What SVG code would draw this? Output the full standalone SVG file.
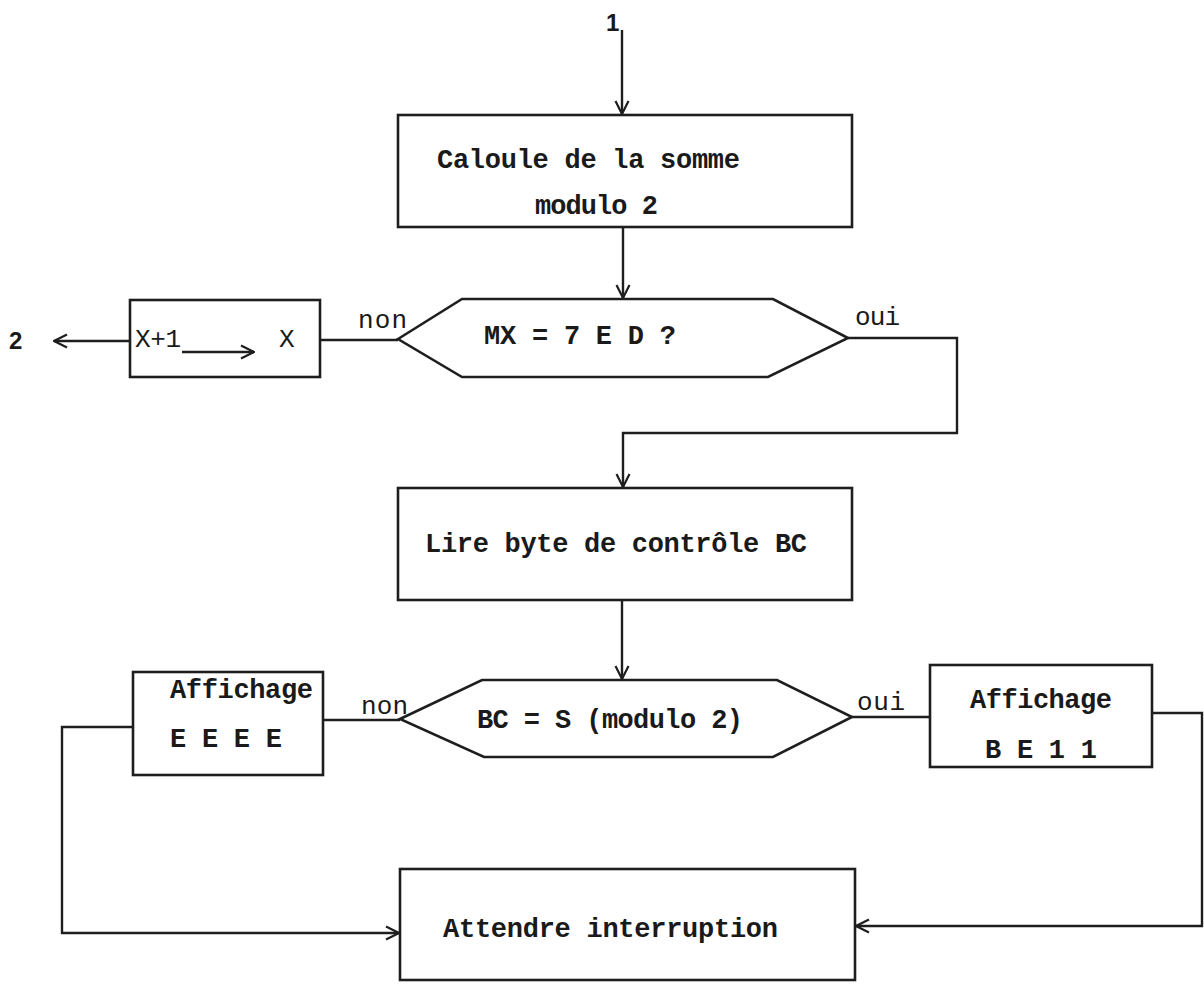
<svg xmlns="http://www.w3.org/2000/svg" width="1204" height="985" viewBox="0 0 1204 985">
<defs>
<marker id="arr" viewBox="0 0 16 16" refX="15" refY="8" markerWidth="16" markerHeight="16" markerUnits="userSpaceOnUse" orient="auto">
<path d="M2,1.5 L15,8 L2,14.5" fill="none" stroke="#1e1e1e" stroke-width="2.2"/>
</marker>
<style>
.shape{fill:none;stroke:#1e1e1e;stroke-width:2.6}
.line{fill:none;stroke:#1e1e1e;stroke-width:2.4}
.t{font-family:"Liberation Mono","Courier New",monospace;font-weight:bold;font-size:27px;fill:#1a1a1a}
.l{font-family:"Liberation Mono","Courier New",monospace;font-size:26px;fill:#1a1a1a}
.s{font-family:"Liberation Sans",Arial,sans-serif;font-weight:bold;font-size:24px;fill:#1a1a1a}
</style>
</defs>
<rect width="1204" height="985" fill="#ffffff"/>

<g id="connectors">
<path class="line" d="M622,30 V114" marker-end="url(#arr)"/>
<path class="line" d="M623,227 V298" marker-end="url(#arr)"/>
<path class="line" d="M398,340 H320"/>
<path class="line" d="M130,341 H54" marker-end="url(#arr)"/>
<path class="line" d="M848,338 H957 V433 H623 V487" marker-end="url(#arr)"/>
<path class="line" d="M622,600 V679" marker-end="url(#arr)"/>
<path class="line" d="M400,720 H323"/>
<path class="line" d="M852,717 H930"/>
<path class="line" d="M133,727 H62 V933 H399" marker-end="url(#arr)"/>
<path class="line" d="M1152,713 H1202 V926 H856" marker-end="url(#arr)"/>
</g>

<g id="label-1"><text class="s" x="606" y="31">1</text></g>
<g id="label-2"><text class="s" x="9" y="349">2</text></g>

<g id="calc-sum">
<rect class="shape" x="398" y="115" width="454" height="112"/>
<text class="t" x="437" y="168" textLength="303" lengthAdjust="spacing">Caloule de la somme</text>
<text class="t" x="535" y="214" textLength="123" lengthAdjust="spacing">modulo 2</text>
</g>

<g id="decision-mx">
<polygon class="shape" points="398,339 462,299 773,299 848,338 768,377 462,377"/>
<text class="t" x="484" y="344" textLength="192" lengthAdjust="spacing">MX = 7 E D ?</text>
<text class="l" x="358" y="328" textLength="49" lengthAdjust="spacing">non</text>
<text class="l" x="855" y="325" textLength="45" lengthAdjust="spacing">oui</text>
</g>

<g id="increment-x">
<rect class="shape" x="130" y="300" width="190" height="77"/>
<text class="l" x="135" y="347" textLength="46" lengthAdjust="spacing">X+1</text>
<path class="line" d="M182,352 H254" marker-end="url(#arr)"/>
<text class="l" x="279" y="347">X</text>
</g>

<g id="read-bc">
<rect class="shape" x="398" y="488" width="454" height="112"/>
<text class="t" x="425" y="552" textLength="382" lengthAdjust="spacing">Lire byte de contrôle BC</text>
</g>

<g id="decision-bc">
<polygon class="shape" points="400,719 482,680 777,680 852,717 773,757 484,757"/>
<text class="t" x="477" y="728" textLength="266" lengthAdjust="spacing">BC = S (modulo 2)</text>
<text class="l" x="361" y="714" textLength="47" lengthAdjust="spacing">non</text>
<text class="l" x="857" y="710" textLength="48" lengthAdjust="spacing">oui</text>
</g>

<g id="display-eeee">
<rect class="shape" x="133" y="672" width="190" height="103"/>
<text class="t" x="170" y="698" textLength="143" lengthAdjust="spacing">Affichage</text>
<text class="t" x="170" y="747" textLength="112" lengthAdjust="spacing">E E E E</text>
</g>

<g id="display-bell">
<rect class="shape" x="930" y="665" width="222" height="102"/>
<text class="t" x="970" y="708" textLength="142" lengthAdjust="spacing">Affichage</text>
<text class="t" x="985" y="758" textLength="112" lengthAdjust="spacing">B E 1 1</text>
</g>

<g id="wait-interrupt">
<rect class="shape" x="400" y="869" width="455" height="111"/>
<text class="t" x="443" y="937" textLength="335" lengthAdjust="spacing">Attendre interruption</text>
</g>
</svg>
